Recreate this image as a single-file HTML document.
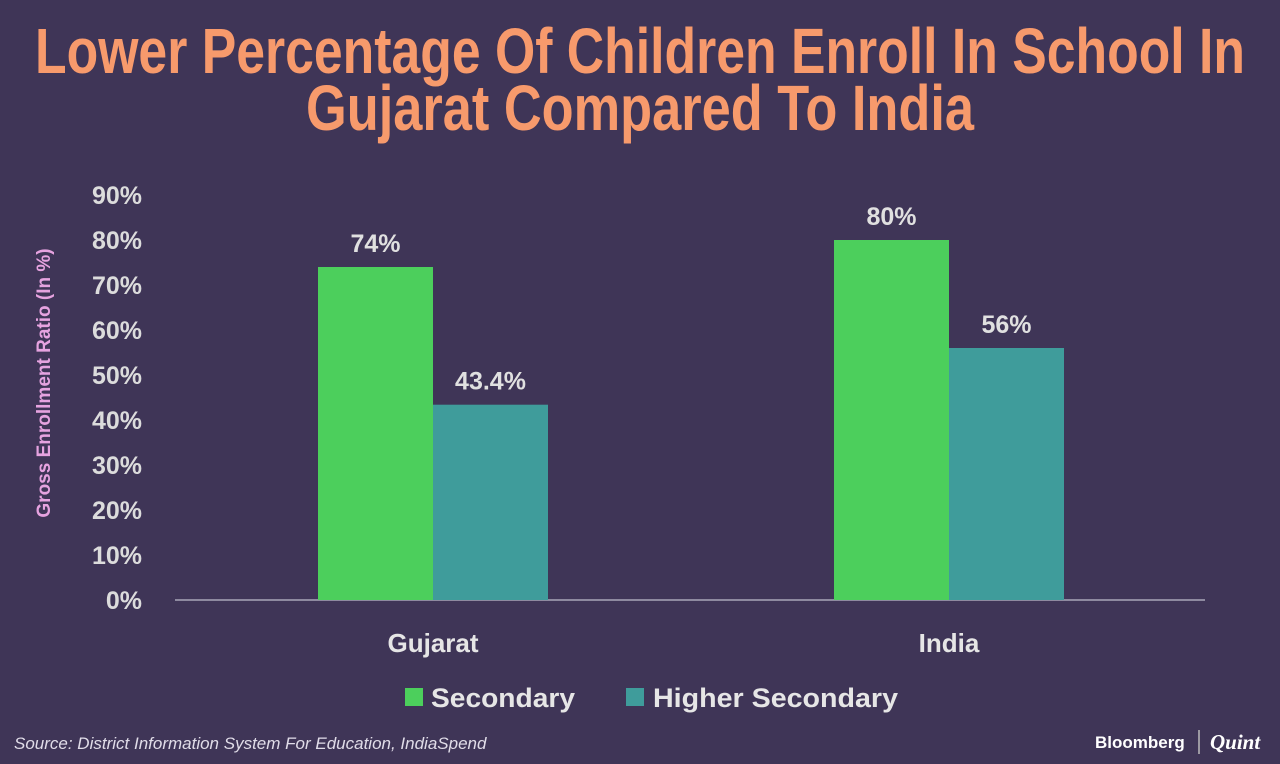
<!DOCTYPE html>
<html><head><meta charset="utf-8"><style>
html,body{margin:0;padding:0;width:1280px;height:764px;overflow:hidden;background:#3f3557;}
svg{display:block}
</style></head><body>
<svg width="1280" height="764" xmlns="http://www.w3.org/2000/svg">
<rect width="1280" height="764" fill="#3f3557"/>
<g font-family="'Liberation Sans Narrow','Liberation Sans',sans-serif" font-weight="bold" font-size="64" fill="#f79a6c" text-anchor="middle">
<text x="640" y="73" textLength="1210" lengthAdjust="spacingAndGlyphs">Lower Percentage Of Children Enroll In School In</text>
<text x="640" y="130" textLength="668" lengthAdjust="spacingAndGlyphs">Gujarat Compared To India</text>
</g>
<text transform="translate(50,383) rotate(-90)" text-anchor="middle" font-family="'Liberation Sans',sans-serif" font-weight="bold" font-size="19" fill="#e6a3e0">Gross Enrollment Ratio (In %)</text>
<g id="ticks"></g>
<line x1="175" y1="600" x2="1205" y2="600" stroke="#8e8aa0" stroke-width="2"/>
<g id="bars"></g>
<g font-family="'Liberation Sans',sans-serif" font-weight="bold" font-size="27" fill="#e6e6e6">
<rect x="405" y="688" width="18" height="18" fill="#4ccf5c"/>
<text x="431" y="707" textLength="144" lengthAdjust="spacingAndGlyphs">Secondary</text>
<rect x="626" y="688" width="18" height="18" fill="#3f9c9b"/>
<text x="653" y="707" textLength="245" lengthAdjust="spacingAndGlyphs">Higher Secondary</text>
</g>
<text x="14" y="749" font-family="'Liberation Sans',sans-serif" font-style="italic" font-size="17" fill="#e0dce8">Source: District Information System For Education, IndiaSpend</text>
<g>
<text x="1095" y="748" font-family="'Liberation Sans',sans-serif" font-weight="bold" font-size="17" fill="#ffffff">Bloomberg</text>
<line x1="1199" y1="730" x2="1199" y2="754" stroke="#bbb" stroke-width="1.5"/>
<text x="1210" y="749" font-family="'Liberation Serif',serif" font-style="italic" font-weight="bold" font-size="21" fill="#ffffff">Quint</text>
</g>
</svg>
<script>
const categories=["Gujarat","India"];
const secondary=[74,80];
const higherSecondary=[43.4,56];
const valueLabels=[["74%","43.4%"],["80%","56%"]];
const ticks=[0,10,20,30,40,50,60,70,80,90];
const NS="http://www.w3.org/2000/svg";
const y=v=>600-4.5*v;
const cx=i=>433+i*516;
function mk(tag,attrs,parent){const e=document.createElementNS(NS,tag);for(const k in attrs)e.setAttribute(k,attrs[k]);parent.appendChild(e);return e;}
const tg=document.getElementById('ticks');
ticks.forEach(t=>{const e=mk('text',{x:142,y:y(t)+9,'text-anchor':'end','font-family':"'Liberation Sans',sans-serif",'font-weight':'bold','font-size':25,fill:'#dcdcdc'},tg);


e.textContent=t+'%';});
const bg=document.getElementById('bars');
const series=[[secondary,'#4ccf5c',-115,'secondary'],[higherSecondary,'#3f9c9b',0,'higher-secondary']];
categories.forEach((c,i)=>{
 series.forEach((s,j)=>{const v=s[0][i];const x=cx(i)+s[2];
  const r=mk('rect',{x:x,y:y(v),width:115,height:600-y(v),fill:s[1]},bg);
  
  
  const l=mk('text',{x:x+57.5,y:y(v)-15,'text-anchor':'middle','font-family':"'Liberation Sans',sans-serif",'font-weight':'bold','font-size':25,fill:'#e0e0e0'},bg);
  
  
  l.textContent=valueLabels[i][j];});
 const t=mk('text',{x:cx(i),y:652,'text-anchor':'middle','font-family':"'Liberation Sans',sans-serif",'font-weight':'bold','font-size':26,fill:'#e6e6e6'},bg);
 
 
 t.textContent=c;});
</script>
</body></html>
